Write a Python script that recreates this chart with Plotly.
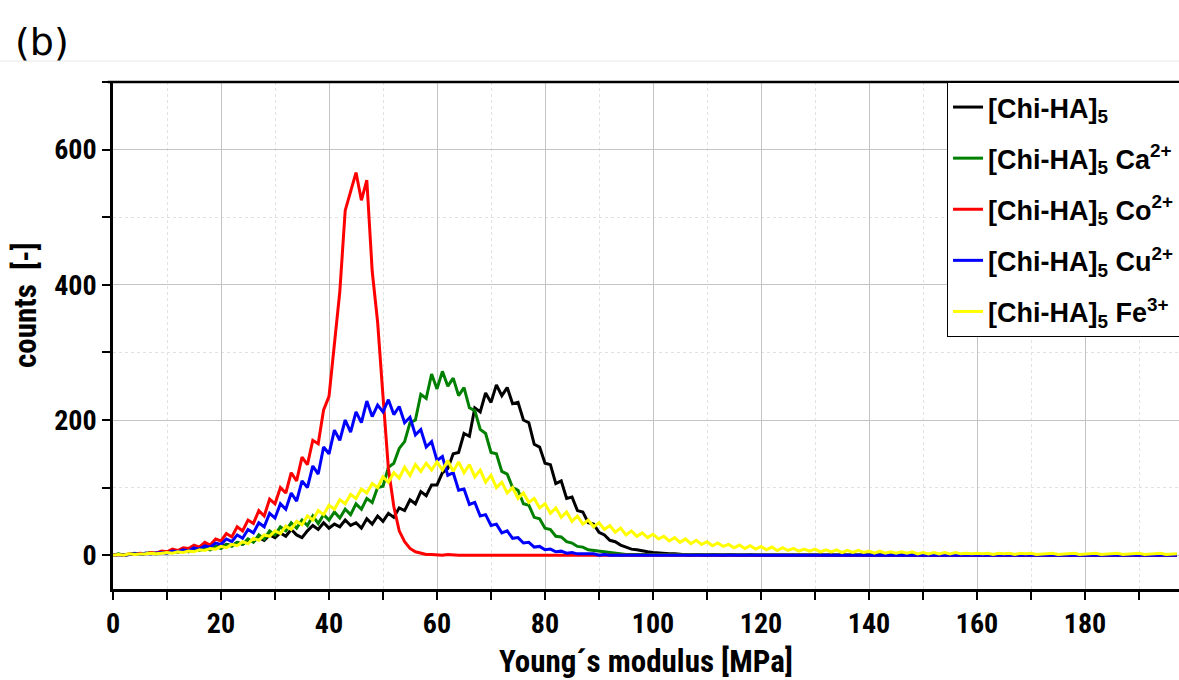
import plotly.graph_objects as go

# Young's modulus axis [MPa], 1 MPa bins
modulus = list(range(198))

chi_ha = [0, 1, 0, 1, 2, 1, 3, 2, 3, 4,
          4, 6, 5, 7, 6, 9, 8, 11, 10, 13,
          12, 16, 14, 19, 16, 22, 20, 26, 22, 30,
          26, 33, 28, 38, 30, 26, 36, 44, 38, 48,
          40, 46, 42, 52, 44, 48, 40, 54, 46, 58,
          50, 62, 56, 70, 66, 82, 76, 94, 88, 104,
          104, 122, 128, 150, 152, 180, 176, 218, 212, 240,
          226, 252, 236, 248, 224, 226, 200, 196, 164, 160,
          136, 134, 106, 110, 84, 86, 66, 64, 48, 46,
          34, 30, 22, 20, 15, 12, 9, 8, 6, 5,
          4, 3, 3, 2, 2, 1, 1, 0, 1, 0,
          0, 1, 0, 0, 1, 0, 0, 0, 1, 0,
          0, 0, 1, 0, 0, 0, 0, 1, 0, 0,
          0, 0, 0, 1, 0, 0, 0, 0, 0, 1,
          0, 0, 0, 0, 1, 0, 0, 0, 0, 0,
          1, 0, 0, 0, 0, 0, 0, 1, 0, 0,
          0, 0, 0, 0, 0, 1, 0, 0, 0, 0,
          0, 0, 1, 0, 0, 0, 0, 0, 0, 0,
          1, 0, 0, 0, 0, 0, 0, 0, 0, 1,
          0, 0, 0, 0, 0, 0, 0, 0]

chi_ha_ca = [0, 2, 0, 1, 3, 1, 2, 4, 2, 5,
             3, 6, 4, 8, 5, 9, 7, 10, 8, 13,
             10, 16, 13, 19, 16, 24, 19, 30, 24, 36,
             30, 42, 36, 48, 40, 52, 44, 58, 47, 60,
             52, 64, 55, 68, 60, 76, 68, 84, 78, 100,
             102, 130, 136, 158, 168, 196, 200, 238, 232, 268,
             246, 272, 250, 262, 236, 248, 218, 214, 186, 180,
             152, 150, 124, 120, 100, 96, 76, 74, 56, 54,
             40, 38, 28, 27, 20, 18, 13, 12, 8, 7,
             5, 4, 3, 3, 2, 1, 1, 1, 0, 1,
             0, 0, 1, 0, 0, 0, 1, 0, 0, 0,
             0, 1, 0, 0, 0, 0, 0, 1, 0, 0,
             0, 0, 0, 0, 1, 0, 0, 0, 0, 0,
             0, 0, 1, 0, 0, 0, 0, 0, 0, 0,
             1, 0, 0, 0, 0, 0, 0, 0, 0, 0,
             0, 0, 0, 1, 0, 0, 0, 0, 0, 0,
             0, 0, 0, 0, 0, 0, 1, 0, 0, 0,
             0, 0, 0, 0, 0, 0, 0, 0, 0, 0,
             0, 0, 0, 0, 0, 1, 0, 0, 0, 0,
             0, 0, 0, 0, 0, 0, 0, 0]

chi_ha_co = [0, 1, 0, 2, 1, 3, 2, 4, 3, 6,
             5, 9, 7, 11, 10, 15, 12, 19, 15, 24,
             21, 32, 27, 42, 36, 52, 47, 66, 58, 83,
             76, 100, 92, 122, 110, 145, 134, 170, 165, 215,
             235, 310, 390, 510, 540, 566, 525, 555, 420, 345,
             235, 128, 72, 36, 20, 10, 5, 3, 1, 1,
             0, 0, 1, 0, 0, 0, 0, 0, 0, 0,
             0, 0, 0, 0, 0, 0, 0, 0, 0, 0,
             0, 0, 0, 0, 0, 0, 0, 0, 0, 0,
             0, 0, 0, 0, 0, 0, 0, 0, 0, 0,
             0, 0, 0, 0, 0, 0, 0, 0, 0, 0,
             0, 0, 0, 0, 0, 0, 0, 0, 0, 0,
             0, 0, 0, 0, 0, 0, 0, 0, 0, 0,
             0, 0, 0, 0, 0, 0, 1, 0, 0, 0,
             0, 0, 0, 0, 0, 0, 0, 0, 1, 0,
             0, 0, 0, 0, 0, 0, 0, 0, 0, 0,
             0, 0, 0, 0, 0, 0, 0, 0, 0, 0,
             0, 0, 0, 0, 0, 0, 0, 0, 0, 0,
             0, 0, 0, 0, 0, 0, 0, 0, 0, 0,
             0, 0, 0, 0, 0, 0, 0, 0]

chi_ha_cu = [0, 1, 0, 1, 2, 1, 3, 2, 3, 4,
             3, 6, 5, 8, 6, 11, 9, 14, 12, 18,
             16, 24, 20, 30, 25, 38, 33, 48, 42, 62,
             55, 76, 68, 92, 80, 110, 100, 132, 120, 160,
             150, 185, 170, 200, 182, 212, 196, 228, 205, 222,
             212, 230, 208, 220, 196, 204, 178, 186, 160, 168,
             140, 146, 118, 122, 96, 98, 75, 78, 58, 60,
             44, 46, 33, 36, 25, 26, 18, 19, 12, 13,
             8, 9, 5, 6, 3, 4, 2, 2, 1, 2,
             0, 1, 0, 0, 1, 0, 0, 0, 0, 1,
             0, 0, 0, 0, 0, 0, 1, 0, 0, 0,
             0, 0, 0, 0, 0, 0, 0, 0, 0, 0,
             0, 0, 0, 0, 0, 0, 0, 0, 0, 0,
             0, 0, 0, 0, 0, 0, 0, 0, 0, 0,
             0, 0, 0, 0, 0, 0, 0, 0, 0, 0,
             0, 0, 0, 0, 0, 0, 0, 0, 0, 0,
             0, 0, 0, 0, 0, 0, 0, 0, 0, 0,
             0, 0, 0, 0, 0, 0, 0, 0, 0, 0,
             0, 0, 0, 0, 0, 0, 0, 0, 0, 0,
             0, 0, 0, 0, 0, 0, 0, 0]

chi_ha_fe = [0, 1, 0, 2, 1, 1, 2, 3, 2, 3,
             4, 3, 5, 4, 6, 5, 8, 7, 10, 9,
             13, 11, 16, 14, 20, 17, 25, 22, 30, 28,
             36, 32, 43, 38, 50, 45, 58, 52, 66, 60,
             74, 68, 82, 76, 90, 84, 98, 92, 106, 100,
             116, 108, 122, 114, 130, 118, 134, 124, 136, 126,
             138, 126, 140, 124, 138, 122, 134, 116, 126, 108,
             118, 100, 108, 92, 100, 84, 92, 78, 84, 70,
             76, 62, 70, 56, 64, 50, 58, 46, 52, 42,
             48, 38, 44, 34, 40, 30, 36, 28, 33, 26,
             31, 24, 28, 21, 26, 19, 24, 17, 22, 16,
             20, 14, 18, 13, 16, 11, 15, 10, 14, 9,
             13, 8, 12, 7, 11, 7, 10, 6, 9, 6,
             9, 5, 8, 5, 8, 4, 7, 4, 7, 4,
             6, 3, 6, 3, 5, 3, 5, 3, 5, 2,
             4, 2, 4, 2, 4, 2, 4, 2, 3, 2,
             3, 2, 3, 1, 3, 2, 3, 1, 3, 2,
             3, 1, 2, 2, 3, 1, 2, 2, 3, 1,
             2, 2, 3, 1, 2, 2, 3, 1, 2, 2,
             3, 1, 2, 2, 3, 1, 2, 2]

series_names = ["[Chi-HA]<sub>5</sub>",
                "[Chi-HA]<sub>5</sub> Ca<sup>2+</sup>",
                "[Chi-HA]<sub>5</sub> Co<sup>2+</sup>",
                "[Chi-HA]<sub>5</sub> Cu<sup>2+</sup>",
                "[Chi-HA]<sub>5</sub> Fe<sup>3+</sup>"]
series_values = [chi_ha, chi_ha_ca, chi_ha_co, chi_ha_cu, chi_ha_fe]
series_colors = ["#000000", "#008000", "#ff0000", "#0000ff", "#ffff00"]

x_ticks = [0, 20, 40, 60, 80, 100, 120, 140, 160, 180]
y_ticks = [0, 200, 400, 600]

FONT = "Roboto Condensed, Liberation Sans, Arial, sans-serif"
LEG_FONT = "Liberation Sans, Arial, sans-serif"

fig = go.Figure()
for i, (name, vals, col) in enumerate(zip(series_names, series_values, series_colors)):
    fig.add_trace(go.Scatter(
        x=modulus, y=vals, mode="lines", name=name,
        line=dict(color=col, width=3),
        legendgroup=f"g{i}",
    ))

axis_common = dict(
    showline=True, linecolor="black", linewidth=2.5,
    ticks="outside", ticklen=8, tickwidth=2, tickcolor="black",
    showgrid=True, gridcolor="#c4c4c4", gridwidth=1,
    zeroline=False,
    tickfont=dict(family=FONT, size=28, color="black", weight="bold"),
)

fig.update_xaxes(
    range=[0, 197.4], tickvals=x_ticks,
    minor=dict(dtick=10, tick0=0, ticks="outside", ticklen=8, tickwidth=2,
               tickcolor="black", showgrid=True, gridcolor="#e2e2e2",
               griddash="dot", gridwidth=1),
    title=dict(text="Young´s modulus [MPa]", standoff=17,
               font=dict(family=FONT, size=31, color="black", weight="bold")),
    **axis_common,
)
fig.update_yaxes(
    range=[-50, 700], tickvals=y_ticks,
    minor=dict(dtick=100, tick0=0, ticks="outside", ticklen=8, tickwidth=2,
               tickcolor="black", showgrid=True, gridcolor="#e2e2e2",
               griddash="dot", gridwidth=1),
    **axis_common,
)

fig.update_layout(
    width=1179, height=680,
    margin=dict(l=113, r=0, t=82, b=91, autoexpand=False),
    paper_bgcolor="white", plot_bgcolor="white",
    showlegend=True,
    legend=dict(
        x=0.7824, y=1.0, xanchor="left", yanchor="top",
        bgcolor="white", bordercolor="black", borderwidth=1,
        font=dict(family=LEG_FONT, size=27, color="black", weight="bold"),
        tracegroupgap=13, itemwidth=30,
    ),
    annotations=[
        dict(text="(b)", xref="paper", yref="paper", x=-0.094, y=1.079,
             xanchor="left", yanchor="middle", showarrow=False,
             font=dict(family="DejaVu Sans", size=38, color="black")),
        dict(text="counts  [-]", xref="paper", yref="paper", x=-0.0826, y=0.56,
             xanchor="center", yanchor="middle", textangle=-90, showarrow=False,
             font=dict(family=FONT, size=31, color="black", weight="bold")),
    ],
    shapes=[
        dict(type="line", xref="paper", yref="paper", x0=-0.11, x1=1.0,
             y0=1.0414, y1=1.0414, line=dict(color="#e8e8e8", width=1)),
        dict(type="line", xref="paper", yref="paper", x0=-0.005, x1=1.0,
             y0=1.0, y1=1.0, line=dict(color="black", width=2.5)),
    ],
)

fig.write_html("out.html", config={"displayModeBar": False},
               post_script="document.body.style.margin='0';document.body.style.overflow='hidden';")
